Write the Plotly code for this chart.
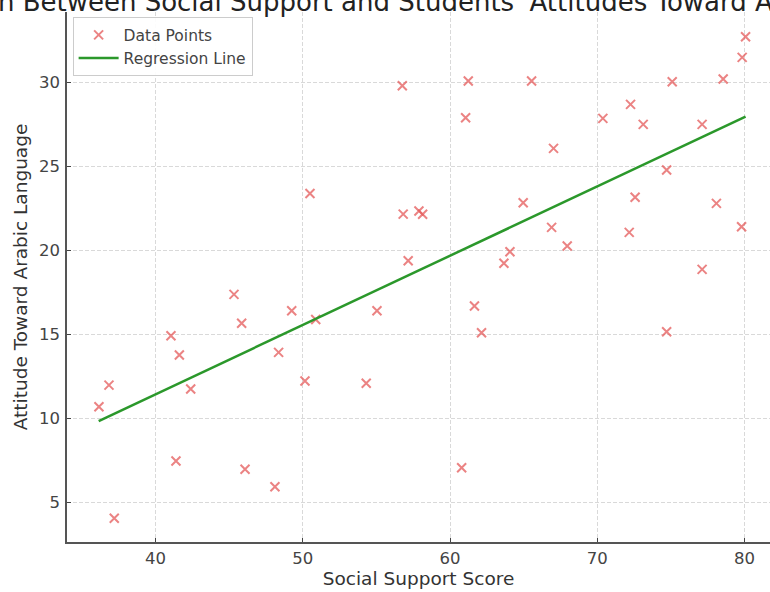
import plotly.graph_objects as go

# Data
support_score = [56.76, 50.49, 56.82, 57.89, 58.14, 57.16, 61.24, 65.54, 61.06, 67.03,
                 80.07, 79.84, 78.55, 75.09, 72.26, 70.38, 73.12, 77.12, 74.71, 72.57,
                 64.97, 78.09, 66.90, 72.17, 79.80, 67.96, 64.07, 63.66, 77.12, 61.66,
                 62.14, 74.71, 60.79, 45.33, 49.25, 50.88, 55.04, 45.85, 41.05, 41.62,
                 48.36, 36.84, 42.39, 50.15, 54.31, 36.16, 41.39, 46.08, 48.11, 37.20]
attitude = [29.81, 23.40, 22.17, 22.35, 22.16, 19.39, 30.09, 30.09, 27.90, 26.08,
            32.73, 31.50, 30.21, 30.05, 28.70, 27.87, 27.51, 27.51, 24.79, 23.17,
            22.85, 22.81, 21.38, 21.08, 21.42, 20.27, 19.93, 19.24, 18.88, 16.70,
            15.11, 15.17, 7.07, 17.39, 16.42, 15.90, 16.42, 15.67, 14.93, 13.78,
            13.94, 11.99, 11.76, 12.23, 12.10, 10.70, 7.47, 6.98, 5.94, 4.06]
regression_x = [36.14, 80.07]
regression_y = [9.85, 27.97]
x_ticks = [40, 50, 60, 70, 80]
y_ticks = [5, 10, 15, 20, 25, 30]

title_text = "Correlation Between Social Support and Students' Attitudes Toward Arabic Language"

font_family = "DejaVu Sans"

fig = go.Figure()
fig.add_trace(go.Scatter(
    x=support_score, y=attitude, mode="markers", name="Data Points",
    marker=dict(symbol="x-thin", size=9,
                color="rgba(228,90,90,0.75)",
                line=dict(width=2, color="rgba(228,90,90,0.75)")),
    cliponaxis=False,
))
fig.add_trace(go.Scatter(
    x=regression_x, y=regression_y, mode="lines", name="Regression Line",
    line=dict(color="#2b982b", width=2.5),
))

W, H = 770, 592
L, R, T, B = 67, 0, 12, 50
grid_style = dict(showgrid=True, gridcolor="#d9d9d9", griddash="4px,2px", gridwidth=1,
                  showline=True, linecolor="#555555", linewidth=1.6,
                  ticks="inside", ticklen=4, tickcolor="#444444", tickwidth=1.2,
                  zeroline=False, mirror=False,
                  tickfont=dict(size=16.5, color="#444444"))
fig.update_layout(
    width=W, height=H,
    margin=dict(l=L, r=R, t=T, b=B, pad=0),
    paper_bgcolor="white", plot_bgcolor="white",
    font=dict(family=font_family, color="#333333", size=15),
    showlegend=True,
    legend=dict(x=0.008, y=0.99, xanchor="left", yanchor="top",
                bgcolor="rgba(255,255,255,0.9)", bordercolor="#cccccc", borderwidth=1,
                font=dict(size=15.5, color="#444444"), itemwidth=40,
                tracegroupgap=0),
    xaxis=dict(range=[33.99, 81.73], tickvals=x_ticks,
               title=dict(text="Social Support Score", font=dict(size=18.5, color="#333333"),
                          standoff=4),
               ticklabelstandoff=0,
               **grid_style),
    yaxis=dict(range=[2.65, 34.2], tickvals=y_ticks,
               title=dict(text="Attitude Toward Arabic Language", font=dict(size=18.5, color="#333333"),
                          standoff=6),
               ticklabelstandoff=2,
               **grid_style),
)
fig.add_annotation(
    text=title_text, xref="paper", yref="paper",
    x=(422 - L) / (W - L - R), y=1, xanchor="center", yanchor="bottom",
    yshift=-7, showarrow=False,
    font=dict(size=26, color="#222222", family=font_family),
)

fig.write_html("out.html")
